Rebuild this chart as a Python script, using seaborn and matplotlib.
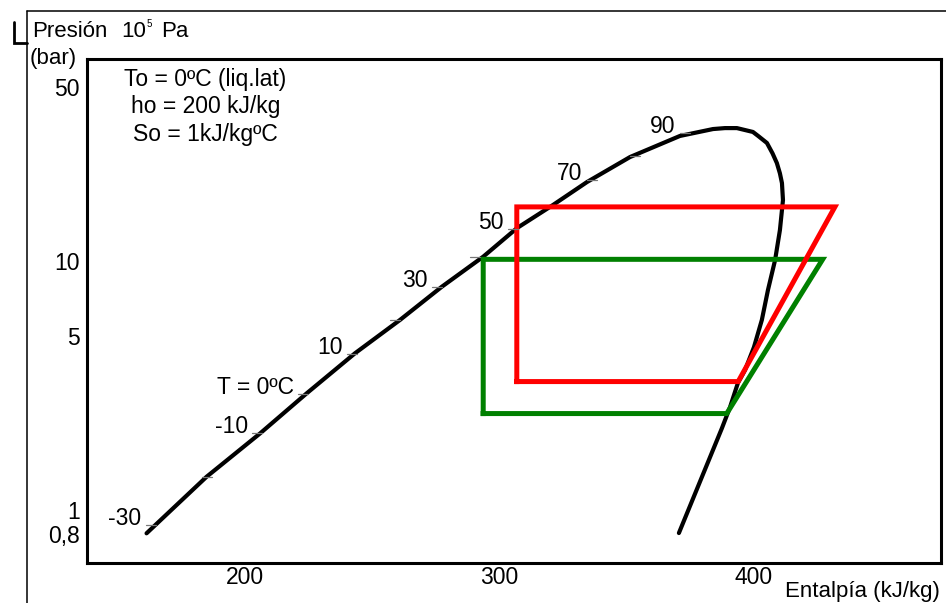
import matplotlib
matplotlib.use("Agg")
import matplotlib.pyplot as plt
from matplotlib.lines import Line2D
from matplotlib.ticker import FixedLocator, NullFormatter
import seaborn as sns

# saturation dome: liquid line -> critical point -> vapour line (h in kJ/kg, p in bar)
dome_h = [161.3, 184.9, 205.9, 224.2, 243.2, 260.9, 277.3, 293.6, 306.9, 321.0,
          334.4, 351.3, 370.9, 383.9, 388.6, 393.3, 399.6, 401.7, 405.1, 407.3,
          409.0, 410.2, 411.0, 411.4, 410.2, 408.3, 405.5, 403.1, 400.0, 396.5,
          393.7, 390.6, 387.4, 370.5]
dome_p = [0.806, 1.36, 2.03, 2.94, 4.26, 5.80, 7.88, 10.41, 13.57, 16.79,
          20.77, 26.17, 31.8, 33.9, 34.2, 34.2, 33.0, 31.77, 29.8, 27.07,
          24.75, 22.5, 20.57, 17.58, 13.32, 10.09, 7.65, 5.80, 4.51, 3.65,
          3.24, 2.59, 2.13, 0.808]

# temperature marks on the liquid line
temp_labels = ["-30", "", "-10", "T = 0ºC", "10", "", "30", "", "50", "70", "", "90"]
temp_h = [165.0, 187.0, 206.7, 224.8, 244.0, 260.9, 277.4, 292.3, 307.3, 338.3, 355.2, 374.9]
temp_p = [0.87, 1.36, 2.044, 2.92, 4.23, 5.80, 7.88, 10.41, 13.45, 21.15, 26.41, 32.66]

# refrigeration cycles
red_h = [306.8, 306.8, 431.8, 393.8, 306.8]
red_p = [3.28, 16.5, 16.5, 3.28, 3.28]
green_h = [293.6, 293.6, 427.0, 389.3, 293.6]
green_p = [2.44, 10.16, 10.16, 2.44, 2.44]

# axis ticks
x_major = [200, 300, 400]
x_minor = [250, 350, 450]
y_major = [0.8, 1, 5, 10, 50]
y_major_labels = ["0,8", "1", "5", "10", "50"]
y_minor = [2, 3, 4, 20, 30, 40]

info_lines = ["To = 0ºC (liq.lat)", "ho = 200 kJ/kg", "So = 1kJ/kgºC"]

sns.set_theme(style="white")
plt.rcParams["font.family"] = ["Liberation Sans", "DejaVu Sans"]
plt.rcParams["text.color"] = "black"

W, H = 946, 603
fig = plt.figure(figsize=(W / 100, H / 100), dpi=100)
fig.patch.set_facecolor("white")


def fx(x):
    return x / W


def fy(y):
    return 1 - y / H


ax = fig.add_axes([fx(87), fy(563), fx(941) - fx(87), fy(59) - fy(563)])
ax.set_yscale("log")

sns.lineplot(x=dome_h, y=dome_p, sort=False, estimator=None, color="black",
             lw=3, ax=ax)
sns.lineplot(x=green_h, y=green_p, sort=False, estimator=None, color="#008000",
             lw=3.6, ax=ax, solid_capstyle="projecting", solid_joinstyle="miter")
sns.lineplot(x=red_h, y=red_p, sort=False, estimator=None, color="#ff0000",
             lw=3.6, ax=ax, solid_capstyle="projecting", solid_joinstyle="miter")

for lab, h, p in zip(temp_labels, temp_h, temp_p):
    ax.plot([h - 4, h], [p, p], color="#777777", lw=0.9)
    if lab:
        ax.annotate(lab, xy=(h - 4, p), xytext=(-3, 0), textcoords="offset points",
                    ha="right", va="baseline", fontsize=16.5, color="black")

ax.set_xlim(137.9, 473.5)
ax.set_ylim(0.6125, 64.8)
ax.set_xlabel("")
ax.set_ylabel("")

ax.xaxis.set_major_locator(FixedLocator(x_major))
ax.xaxis.set_minor_locator(FixedLocator(x_minor))
ax.set_xticklabels([str(v) for v in x_major])
ax.yaxis.set_major_locator(FixedLocator(y_major))
ax.yaxis.set_minor_locator(FixedLocator(y_minor))
ax.set_yticklabels(y_major_labels)
ax.yaxis.set_minor_formatter(NullFormatter())

ax.tick_params(axis="both", which="both", direction="in", length=7, width=1,
               color="#666666", labelsize=16.5, labelcolor="black")
ax.tick_params(axis="y", which="both", pad=5)
ax.tick_params(axis="x", which="both", pad=2)
for s in ax.spines.values():
    s.set_visible(True)
    s.set_color("black")
    s.set_linewidth(2.2)

# top-left annotation block
for line, base in zip(info_lines, [86, 113, 141]):
    fig.text(fx(205.5), fy(base), line, ha="center", va="baseline", fontsize=16.5)

# y axis title
fig.text(fx(32.5), fy(37), "Presión", ha="left", va="baseline", fontsize=16)
fig.text(fx(121), fy(37), "10", ha="left", va="baseline", fontsize=16)
fig.text(fx(147), fy(27), "5", ha="left", va="baseline", fontsize=7)
fig.text(fx(161), fy(37), "Pa", ha="left", va="baseline", fontsize=16)
fig.text(fx(30), fy(64), "(bar)", ha="left", va="baseline", fontsize=16)

# x axis title
fig.text(fx(940), fy(597), "Entalpía (kJ/kg)", ha="right", va="baseline", fontsize=16)

# outer frame and corner mark
fig.add_artist(Line2D([fx(26.5), fx(26.5)], [fy(10.7), fy(603)], color="black", lw=1.1))
fig.add_artist(Line2D([fx(26.5), fx(946)], [fy(10.7), fy(10.7)], color="black", lw=1.1))
fig.add_artist(Line2D([fx(14), fx(14), fx(26.5)], [fy(21.5), fy(43), fy(43)],
                      color="black", lw=2, solid_joinstyle="miter"))

fig.savefig("out.png", dpi=100, facecolor="white")
